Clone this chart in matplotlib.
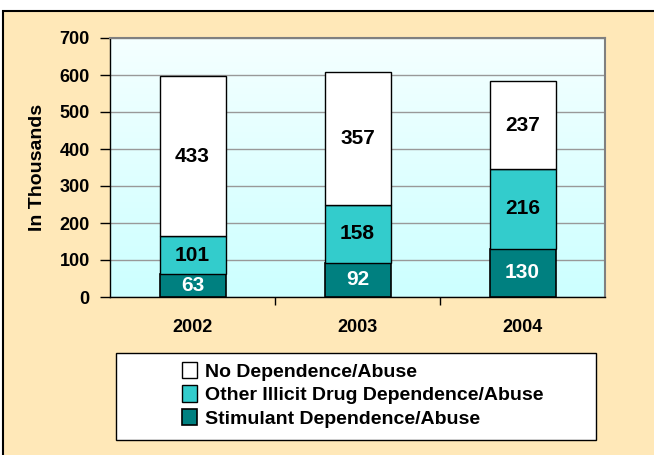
import matplotlib.pyplot as plt
import numpy as np
from matplotlib.patches import Rectangle

plt.rcParams['font.family'] = ['Liberation Sans', 'DejaVu Sans']
plt.rcParams['font.weight'] = 'bold'

years = ["2002", "2003", "2004"]
stimulant = [63, 92, 130]
other_illicit = [101, 158, 216]
no_dependence = [433, 357, 237]
series_names = ["No Dependence/Abuse", "Other Illicit Drug Dependence/Abuse",
                "Stimulant Dependence/Abuse"]

W, H = 654, 455
fig = plt.figure(figsize=(W / 100, H / 100), dpi=100)
fig.patch.set_facecolor("white")

# beige frame with black top/left border
fig.patches.append(Rectangle((3 / W, -0.05), 1, 1.05 - 11 / H, transform=fig.transFigure,
                             facecolor="#FFE8B8", edgecolor="black", linewidth=1.5, zorder=-10))

ax = fig.add_axes([110 / W, 1 - 297 / H, 495 / W, 259 / H])
ax.set_zorder(2)
ax.set_xlim(-0.5, 2.5)
ax.set_ylim(0, 700)

# gradient background
grad = np.linspace(0, 1, 256).reshape(-1, 1)
top = np.array([0.96, 1.0, 1.0])
bot = np.array([0.80, 1.0, 1.0])
img = bot + (top - bot) * grad
ax.imshow(img[:, None, :].repeat(2, axis=1), extent=[-0.5, 2.5, 0, 700],
          origin="lower", aspect="auto", zorder=0)

ax.set_yticks(range(0, 701, 100))
ax.yaxis.grid(True, color="#999999", linewidth=1, zorder=1)
ax.set_axisbelow(True)

x = np.arange(len(years))
w = 0.4
b1 = ax.bar(x, stimulant, w, color="#008080", edgecolor="black", linewidth=1.2, zorder=3,
            label=series_names[2])
b2 = ax.bar(x, other_illicit, w, bottom=stimulant, color="#33CCCC", edgecolor="black",
            linewidth=1, zorder=3, label=series_names[1])
bottom3 = np.array(stimulant) + np.array(other_illicit)
b3 = ax.bar(x, no_dependence, w, bottom=bottom3, color="white", edgecolor="black",
            linewidth=1, zorder=3, label=series_names[0])

for i in range(len(years)):
    ax.text(x[i], stimulant[i] / 2, str(stimulant[i]), ha="center", va="center",
            color="white", fontsize=15, fontweight="bold", zorder=4)
    ax.text(x[i], stimulant[i] + other_illicit[i] / 2, str(other_illicit[i]), ha="center",
            va="center", color="black", fontsize=15, fontweight="bold", zorder=4)
    ax.text(x[i], bottom3[i] + no_dependence[i] / 2, str(no_dependence[i]), ha="center",
            va="center", color="black", fontsize=15, fontweight="bold", zorder=4)

ax.set_xticks([0.5, 1.5], minor=False)
ax.set_xticklabels([])
ax.set_xticks(x, minor=True)
ax.set_xticklabels(years, minor=True, fontsize=13, fontweight="bold")
ax.tick_params(axis="x", which="minor", length=0, pad=16)
ax.tick_params(axis="x", which="major", length=5.5, direction="out", width=1)
ax.tick_params(axis="y", length=7, width=1, labelsize=13, pad=7.5)

for side in ["top", "right"]:
    ax.spines[side].set_color("#808080")
    ax.spines[side].set_linewidth(1.5)
ax.spines["left"].set_linewidth(1)
ax.spines["bottom"].set_linewidth(1)

ax.set_ylabel("In Thousands", fontsize=14, fontweight="bold", labelpad=10)

# legend box
fig.patches.append(Rectangle((116 / W, 1 - 440 / H), 480 / W, 87 / H, transform=fig.transFigure,
                             facecolor="white", edgecolor="black", linewidth=1, zorder=1))
fig.legend([b3, b2, b1], series_names, loc="upper left",
           bbox_to_anchor=(174 / W, 1 - 354 / H), frameon=False,
           handlelength=0.8, handleheight=0.9, handletextpad=0.4, labelspacing=0.25,
           borderaxespad=0, prop={"weight": "bold", "size": 14})

fig.savefig("out.png", dpi=100)
